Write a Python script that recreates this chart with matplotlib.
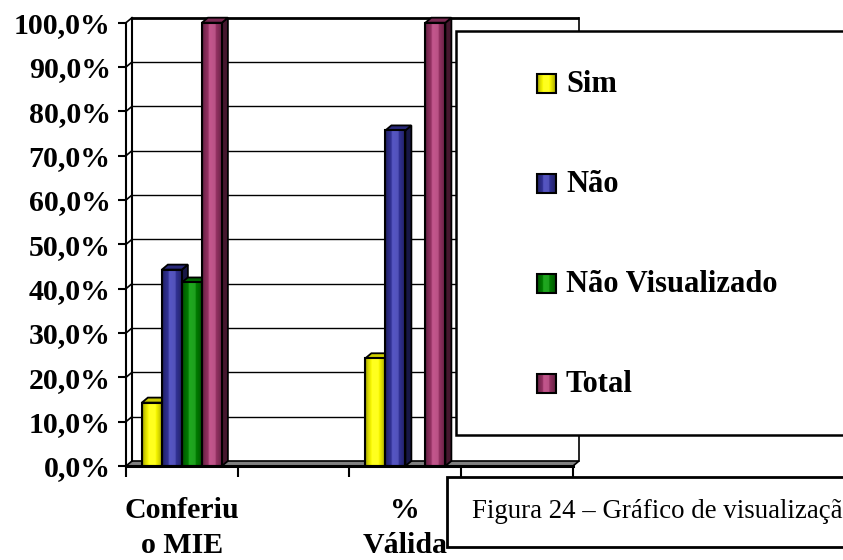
import numpy as np
import matplotlib
matplotlib.use("Agg")
import matplotlib.pyplot as plt
from matplotlib.patches import Rectangle, Polygon
from matplotlib.colors import to_rgb

# ---- data -------------------------------------------------------------
categories = ["Conferiu\no MIE", "", "%\nVálida", ""]
series_names = ["Sim", "Não", "Não Visualizado", "Total"]
sim = [14.3, 0, 24.3, 0]
nao = [44.3, 0, 75.7, 0]
nao_visualizado = [41.4, 0, 0, 0]
total = [100.0, 0, 100.0, 0]
series_values = [sim, nao, nao_visualizado, total]
series_colors = ["#FFFF00", "#333399", "#008000", "#993366"]
y_ticks = list(range(0, 101, 10))
y_tick_labels = [f"{v},0%" for v in y_ticks]
caption = "Figura 24 – Gráfico de visualização"

# ---- figure -----------------------------------------------------------
W, H = 843, 560
fig = plt.figure(figsize=(W / 100, H / 100), dpi=100)
fig.patch.set_facecolor("white")

SERIF = "Liberation Serif"
FS = 21.5

ax = fig.add_axes([126 / W, 1 - 466 / H, 447 / W, 443.3 / H])
ncat = len(categories)
ax.set_xlim(0, ncat)
ax.set_ylim(0, 100)
ax.patch.set_visible(False)

# depth of the pseudo-3D box, in data units
px_x = ncat / 447.0
px_y = 100 / 443.3
DX = 6 * px_x
DY = 5 * px_y

# floor
ax.add_patch(Polygon([(0, 0), (ncat, 0), (ncat + DX, DY), (DX, DY)],
                     closed=True, facecolor="#808080", edgecolor="black",
                     lw=1.2, zorder=1, clip_on=False))

# back wall grid and edges
for v in y_ticks[1:]:
    lw = 2.0 if v == 100 else 1.0
    ax.plot([DX, ncat + DX], [v + DY, v + DY], color="black", lw=lw,
            zorder=1, clip_on=False, solid_capstyle="butt")
    ax.plot([0, DX], [v, v + DY], color="black", lw=1.2, zorder=1, clip_on=False)
ax.plot([DX, DX], [DY, 100 + DY], color="black", lw=1.5, zorder=1, clip_on=False)
ax.plot([ncat + DX, ncat + DX], [DY, 100 + DY], color="black", lw=1.2,
        zorder=1, clip_on=False)

# shading profile across a column face
t = np.linspace(0, 1, 60)
profile = np.interp(t, [0, 0.12, 0.4, 0.65, 0.85, 1.0],
                    [0.55, 0.8, 1.08, 1.0, 0.8, 0.62])


def shaded(color, prof):
    c = np.array(to_rgb(color))
    g = np.clip(c[None, :] * prof[:, None] + (prof[:, None] > 1) * 0.12, 0, 1)
    return g[None, :, :]


def dark(color, f):
    return tuple(np.array(to_rgb(color)) * f)


bar_w = 0.179
gap = (1 - bar_w * len(series_values)) / 2
z = 3
for ci in range(ncat):
    for si, (vals, col) in enumerate(zip(series_values, series_colors)):
        v = vals[ci]
        if v <= 0:
            continue
        x0 = ci + gap + si * bar_w
        x1 = x0 + bar_w
        # side face
        ax.add_patch(Polygon([(x1, 0), (x1 + DX, DY), (x1 + DX, v + DY), (x1, v)],
                             closed=True, facecolor=dark(col, 0.45),
                             edgecolor="black", lw=1.3, zorder=z, clip_on=False))
        # top face
        ax.add_patch(Polygon([(x0, v), (x1, v), (x1 + DX, v + DY), (x0 + DX, v + DY)],
                             closed=True, facecolor=dark(col, 0.8),
                             edgecolor="black", lw=1.3, zorder=z, clip_on=False))
        # front face with shading
        ax.imshow(shaded(col, profile), extent=(x0, x1, 0, v), aspect="auto",
                  interpolation="bilinear", zorder=z + 0.1, clip_on=False)
        ax.add_patch(Rectangle((x0, 0), bar_w, v, facecolor="none",
                               edgecolor="black", lw=1.5, zorder=z + 0.2,
                               clip_on=False))
        z += 1

ax.set_xlim(0, ncat)
ax.set_ylim(0, 100)

# axes, ticks and labels
for s in ["top", "right"]:
    ax.spines[s].set_visible(False)
ax.spines["left"].set_linewidth(1.5)
ax.spines["bottom"].set_linewidth(2.2)
ax.spines["left"].set_zorder(2)
ax.spines["bottom"].set_zorder(40)

ax.set_yticks(y_ticks)
ax.set_yticklabels(y_tick_labels, fontfamily=SERIF, fontweight="bold", fontsize=FS)
ax.tick_params(axis="y", length=6, width=1.5, pad=5, direction="out")

ax.set_xticks(range(ncat + 1))
ax.set_xticklabels([])
ax.set_xticks([i + 0.5 for i in range(ncat)], minor=True)
ax.set_xticklabels(categories, minor=True, fontfamily=SERIF, fontweight="bold",
                   fontsize=FS, linespacing=1.42)
ax.tick_params(axis="x", which="major", length=8, width=1.5, direction="out")
ax.tick_params(axis="x", which="minor", length=0, pad=22)

# ---- overlay: legend and caption boxes (pixel coordinates) ------------
lax = fig.add_axes([0, 0, 1, 1], zorder=10)
lax.set_xlim(0, W)
lax.set_ylim(H, 0)
lax.axis("off")
lax.patch.set_visible(False)

lax.add_patch(Rectangle((456, 31), 420, 404, facecolor="white",
                        edgecolor="black", lw=1.8, zorder=1))
for i, (name, col) in enumerate(zip(series_names, series_colors)):
    cy = 83 + 100 * i
    lax.imshow(shaded(col, profile), extent=(537, 556, cy + 9.5, cy - 9.5),
               aspect="auto", interpolation="bilinear", zorder=2)
    lax.add_patch(Rectangle((537, cy - 9.5), 19, 19, facecolor="none",
                            edgecolor="black", lw=1.5, zorder=3))
    lax.text(566, cy + 1, name, fontfamily=SERIF, fontweight="bold",
             fontsize=22, va="center", ha="left", zorder=3)

lax.add_patch(Rectangle((447, 477), 420, 70, facecolor="white",
                        edgecolor="black", lw=2, zorder=1))
lax.text(472, 511, caption, fontfamily=SERIF, fontsize=19.4,
         va="center", ha="left", zorder=3)
lax.set_xlim(0, W)
lax.set_ylim(H, 0)

fig.savefig("out.png", dpi=100, facecolor="white")
